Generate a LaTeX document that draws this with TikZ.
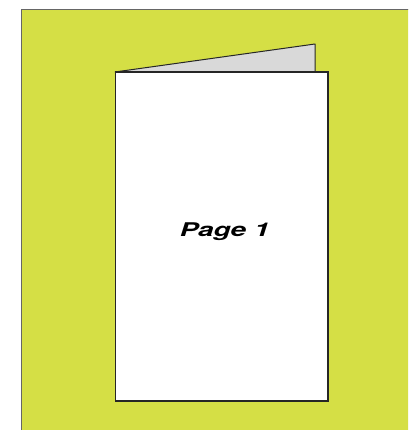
\documentclass[tikz,border=0pt]{standalone}
\usepackage{fontspec}
\usepackage{xcolor}
\usepackage{tikz}
\usetikzlibrary{positioning}
\newfontfamily\heros{TeX Gyre Heros}
\definecolor{limebg}{HTML}{D5DF45}
\definecolor{flapgray}{HTML}{D9D9D9}
\tikzset{
    backdrop/.style={
        fill=limebg,
        draw=none
    },
    backedge/.style={
        draw=gray!80!black,
        line width=1.4pt
    },
    pagebox/.style={
        draw=black!85,
        fill=white,
        line width=1pt,
        inner sep=0pt,
        minimum width=212pt,
        minimum height=328.5pt
    },
    flap/.style={
        draw=black!85,
        fill=flapgray,
        line width=1pt,
        line join=round
    },
    pagelabel/.style={
        font=\heros\bfseries\itshape\fontsize{18.9}{22}\selectfont,
        inner sep=0pt,
        anchor=base
    }
}
\begin{document}
\begin{tikzpicture}[x=1pt,y=-1pt]
        \useasboundingbox (0,0) rectangle (408,430);
        \clip (0,0) rectangle (408,430);

        % background
        \fill[backdrop] (21.5,9.5) rectangle (410,432);
        \draw[backedge] (21.5,432) -- (21.5,9.5) -- (410,9.5);

        % folded card
        \coordinate (fold) at (315,44);
        \node[pagebox] (page) at (221.7,236.7) {};
        \draw[flap] (page.north west) -- (fold) -- (fold |- page.north) -- cycle;
        \draw[draw=black!85, line width=1pt] (page.north west) rectangle (page.south east);

        \node[pagelabel] (title) at (224.7,236.7) {\scalebox{1.48}[1]{Page 1}};
    \end{tikzpicture}
\end{document}
